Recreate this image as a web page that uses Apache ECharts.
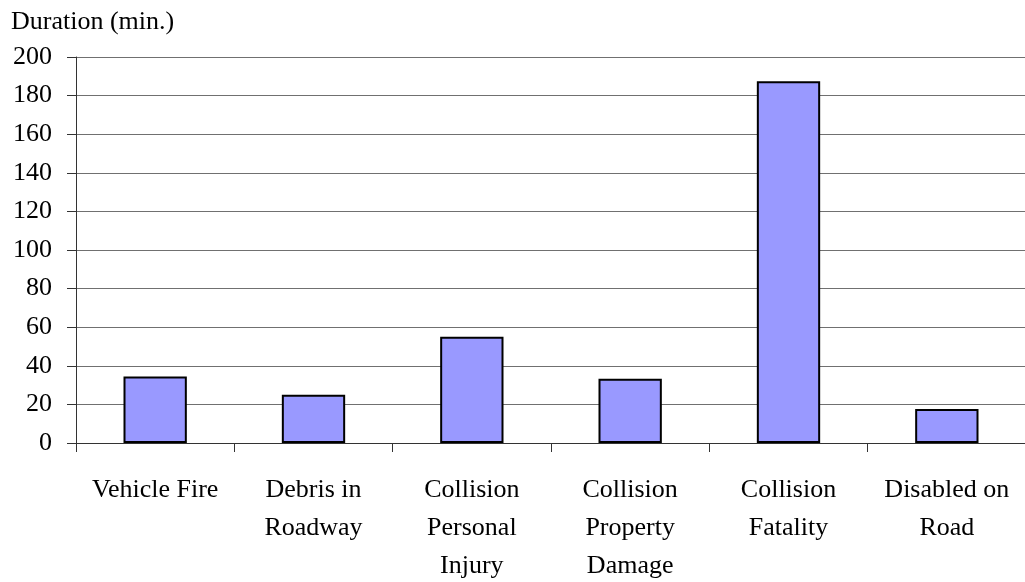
<!DOCTYPE html>
<html>
<head>
<meta charset="utf-8">
<script src="https://cdn.jsdelivr.net/npm/echarts@6/dist/echarts.min.js"></script>
<style>
  html, body { margin: 0; padding: 0; background: #ffffff; }
  #chart { width: 1025px; height: 582px; }
</style>
</head>
<body>
<div id="chart"></div>
<script>
// Incident types and their average clearance duration in minutes
const categories = [
  'Vehicle Fire',
  'Debris in\nRoadway',
  'Collision\nPersonal\nInjury',
  'Collision\nProperty\nDamage',
  'Collision\nFatality',
  'Disabled on\nRoad'
];
const durations = [34.5, 25, 55, 33.3, 187.5, 17.6];
const yTicks = { min: 0, max: 200, interval: 20 };

const FONT = '"Liberation Serif", "Times New Roman", serif';

const chart = echarts.init(document.getElementById('chart'), null, { renderer: 'canvas' });
chart.setOption({
  backgroundColor: '#ffffff',
  animation: false,
  title: {
    text: 'Duration (min.)',
    left: 11,
    top: 9,
    padding: 0,
    textStyle: { fontFamily: FONT, fontSize: 26, fontWeight: 'normal', color: '#000000' }
  },
  grid: {
    left: 76, right: -1, top: 57, bottom: 139,
    containLabel: false,
    outerBoundsMode: 'none'
  },
  xAxis: {
    type: 'category',
    data: categories,
    boundaryGap: true,
    axisLine: { show: true, lineStyle: { color: '#333333', width: 1 } },
    axisTick: { show: true, length: 9, alignWithLabel: false, lineStyle: { color: '#333333' } },
    axisLabel: {
      interval: 0,
      margin: 28,
      fontFamily: FONT,
      fontSize: 26,
      lineHeight: 38,
      color: '#000000'
    },
    splitLine: { show: false }
  },
  yAxis: {
    type: 'value',
    min: yTicks.min,
    max: yTicks.max,
    interval: yTicks.interval,
    axisLine: { show: true, lineStyle: { color: '#333333', width: 1 } },
    axisTick: { show: true, length: 9, inside: false, lineStyle: { color: '#333333' } },
    axisLabel: {
      margin: 24,
      fontFamily: FONT,
      fontSize: 26,
      color: '#000000'
    },
    splitLine: { show: true, lineStyle: { color: '#707070', width: 1 } }
  },
  series: [{
    type: 'bar',
    data: durations,
    barCategoryGap: '60%',
    itemStyle: { color: '#9999FF', borderColor: '#000000', borderWidth: 2 }
  }]
});
</script>
</body>
</html>
